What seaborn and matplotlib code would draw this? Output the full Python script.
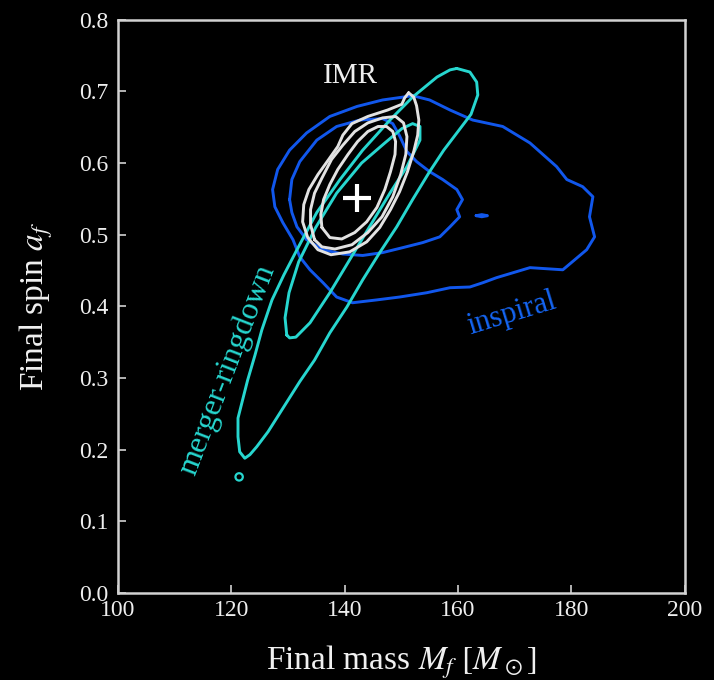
import seaborn as sns
import matplotlib.pyplot as plt

# ------------------------------------------------------------
# Contour outlines: final mass (M_sun), final spin
# ------------------------------------------------------------
# inspiral, outer / inner credible region
insp90_m = [152.0, 150.3, 146.7, 142.2, 137.4, 133.3, 130.3, 128.2, 127.3, 127.7,
            129.1, 130.9, 132.1, 133.9, 136.2, 138.6, 141.4, 145.7, 149.7, 154.5,
            158.6, 162.1, 164.4, 166.8, 172.7, 178.5, 182.7, 184.1, 183.2, 183.8,
            182.0, 179.2, 177.4, 172.7, 167.9, 162.6, 158.6, 155.0]
insp90_a = [0.694, 0.692, 0.688, 0.679, 0.665, 0.642, 0.618, 0.591, 0.563, 0.539,
            0.517, 0.493, 0.469, 0.451, 0.433, 0.413, 0.405, 0.409, 0.413, 0.419,
            0.426, 0.427, 0.433, 0.440, 0.454, 0.451, 0.479, 0.497, 0.525, 0.553,
            0.567, 0.577, 0.595, 0.628, 0.651, 0.660, 0.674, 0.688]
insp50_m = [130.3, 130.7, 132.1, 135.1, 138.6, 142.7, 146.7, 148.5, 149.7, 151.0,
            152.7, 155.0, 157.3, 159.8, 160.8, 159.8, 160.3, 158.6, 156.8, 153.8,
            150.3, 146.7, 143.2, 139.7, 136.2, 133.3, 131.6, 130.7]
insp50_a = [0.549, 0.577, 0.602, 0.632, 0.651, 0.660, 0.662, 0.655, 0.638, 0.616,
            0.602, 0.588, 0.577, 0.563, 0.549, 0.535, 0.525, 0.511, 0.497, 0.489,
            0.482, 0.475, 0.471, 0.473, 0.479, 0.493, 0.511, 0.531]
insp_isl_m = [163.2, 164.2, 165.2, 164.2]
insp_isl_a = [0.5265, 0.528, 0.5265, 0.525]

# merger-ringdown
mr90_m = [159.8, 162.1, 163.3, 163.5, 162.3, 160.0, 157.5, 155.0, 152.0, 149.2,
          146.2, 143.2, 140.4, 137.4, 134.7, 132.1, 128.9, 126.5, 124.5, 123.3,
          122.4, 121.5, 121.2, 121.2, 122.0, 122.9, 124.2, 125.4, 127.2, 129.3,
          131.6, 135.1, 139.2, 143.2, 148.0, 152.0, 156.3, 158.6]
mr90_a = [0.732, 0.727, 0.713, 0.695, 0.668, 0.644, 0.618, 0.588, 0.549, 0.511,
          0.475, 0.437, 0.399, 0.363, 0.325, 0.295, 0.255, 0.225, 0.204, 0.193,
          0.188, 0.197, 0.218, 0.244, 0.269, 0.297, 0.332, 0.367, 0.409, 0.444,
          0.479, 0.531, 0.577, 0.618, 0.660, 0.692, 0.720, 0.730]
mr50_m = [129.8, 129.5, 130.2, 131.9, 134.9, 138.6, 143.0, 147.1, 150.1, 152.0,
          153.3, 153.3, 151.0, 148.0, 144.4, 140.9, 137.4, 133.9, 131.4, 130.3]
mr50_a = [0.360, 0.384, 0.419, 0.462, 0.510, 0.558, 0.600, 0.628, 0.648, 0.655,
          0.651, 0.632, 0.595, 0.558, 0.511, 0.465, 0.419, 0.377, 0.357, 0.356]
mr_isl_m = [121.4]
mr_isl_a = [0.162]

# full IMR
imr90_m = [151.3, 152.2, 152.7, 153.1, 152.9, 152.2, 151.1, 149.7, 148.1, 146.2,
           143.9, 140.9, 137.6, 135.3, 133.5, 132.6, 132.8, 133.7, 135.3, 137.2,
           138.8, 139.7, 141.3, 144.1, 147.6, 150.1, 150.6]
imr90_a = [0.698, 0.692, 0.680, 0.660, 0.639, 0.616, 0.588, 0.560, 0.535, 0.510,
           0.490, 0.476, 0.472, 0.479, 0.496, 0.518, 0.542, 0.563, 0.584, 0.605,
           0.623, 0.639, 0.655, 0.665, 0.674, 0.682, 0.691]
imr_mid_m = [134.7, 134.0, 134.0, 134.7, 136.0, 137.7, 139.7, 141.8, 144.1, 146.7,
             149.0, 150.4, 151.0, 150.8, 149.9, 148.5, 146.6, 144.1, 141.3, 138.3,
             136.0]
imr_mid_a = [0.493, 0.514, 0.535, 0.558, 0.579, 0.605, 0.625, 0.644, 0.656, 0.663,
             0.665, 0.656, 0.637, 0.612, 0.584, 0.553, 0.525, 0.503, 0.486, 0.480,
             0.483]
imr50_m = [136.0, 135.8, 136.3, 137.4, 138.8, 140.6, 142.3, 144.1, 145.9, 147.4,
           148.5, 149.0, 148.9, 148.1, 147.1, 145.7, 143.9, 141.8, 139.5, 137.4]
imr50_a = [0.510, 0.528, 0.549, 0.570, 0.591, 0.612, 0.630, 0.644, 0.651, 0.651,
           0.644, 0.630, 0.612, 0.588, 0.563, 0.538, 0.518, 0.503, 0.494, 0.496]
imr_peak_m = [142.2]
imr_peak_a = [0.551]

x_ticks = [100, 120, 140, 160, 180, 200]
y_ticks = [0.0, 0.1, 0.2, 0.3, 0.4, 0.5, 0.6, 0.7, 0.8]

BLUE = "#1157ec"
CYAN = "#27d6cf"
WHITE = "#e2e2e2"

# -------------------------------
# Style
# -------------------------------
sns.set_theme(style="dark")
plt.rcParams["font.family"] = ["Liberation Serif", "DejaVu Serif"]
plt.rcParams["mathtext.fontset"] = "stix"
plt.rcParams["lines.solid_joinstyle"] = "round"

fig = plt.figure(figsize=(7.14, 6.80), dpi=100, facecolor="black")
ax = fig.add_axes([0.165, 0.128, 0.794, 0.843])
ax.set_facecolor("black")


def outline(m, a, color, lw=2.1):
    # closed contour drawn in the given point order
    sns.lineplot(x=m + m[:1], y=a + a[:1], sort=False, estimator=None,
                 color=color, lw=lw, ax=ax)


outline(insp90_m, insp90_a, BLUE)
outline(insp50_m, insp50_a, BLUE)
outline(insp_isl_m, insp_isl_a, BLUE)
outline(mr90_m, mr90_a, CYAN)
outline(mr50_m, mr50_a, CYAN)
outline(imr90_m, imr90_a, WHITE)
outline(imr_mid_m, imr_mid_a, WHITE)
outline(imr50_m, imr50_a, WHITE)
sns.scatterplot(x=mr_isl_m, y=mr_isl_a, marker="o", s=28, facecolor="none",
                edgecolor=CYAN, linewidth=1.6, ax=ax)
sns.scatterplot(x=imr_peak_m, y=imr_peak_a, marker="+", s=380, linewidth=3,
                color="white", ax=ax, zorder=5)

# labels on the curves
ax.text(141.1, 0.722, "IMR", color="#eeeeee", fontsize=21, ha="center", va="center")
ax.text(169.6, 0.390, "inspiral", color="#1565f2", fontsize=22, rotation=17,
        ha="center", va="center")
ax.text(119.3, 0.312, "merger-ringdown", color=CYAN, fontsize=23, rotation=69,
        ha="center", va="center")

# -------------------------------
# Axes
# -------------------------------
ax.set_xlim(100, 200)
ax.set_ylim(0, 0.8)
ax.set_xticks(x_ticks)
ax.set_yticks(y_ticks)
ax.set_yticklabels([f"{v:.1f}" for v in y_ticks])
ax.grid(False)
for s in ax.spines.values():
    s.set_visible(True)
    s.set_color("#d2d2d2")
    s.set_linewidth(1.8)
ax.tick_params(direction="in", length=6, width=1.2, color="#d2d2d2",
               labelcolor="#eeeeee", labelsize=17, bottom=True, left=True)
ax.tick_params(axis="x", pad=5)
ax.tick_params(axis="y", pad=7)
ax.set_xlabel(r"Final mass $M_f\ [M_\odot]$", color="#f0f0f0", fontsize=24, labelpad=16)
ax.set_ylabel(r"Final spin $a_f$", color="#f0f0f0", fontsize=24, labelpad=17)

fig.savefig("out.png", dpi=100, facecolor="black")
plt.close(fig)
